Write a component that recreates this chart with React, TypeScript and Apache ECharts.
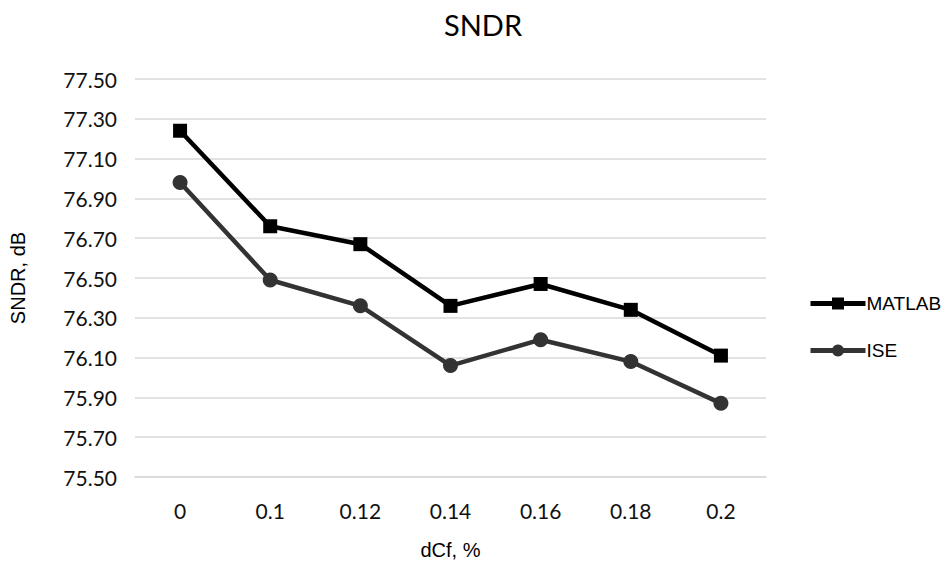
import React, { useEffect, useRef } from "react";
import * as echarts from "echarts";

const categories = ["0", "0.1", "0.12", "0.14", "0.16", "0.18", "0.2"];
const matlab = [77.24, 76.76, 76.67, 76.36, 76.47, 76.34, 76.11];
const ise = [76.98, 76.49, 76.36, 76.06, 76.19, 76.08, 75.87];
const yMin = 75.5;
const yMax = 77.5;
const yStep = 0.2;

export default function App() {
  const ref = useRef<HTMLDivElement>(null);
  useEffect(() => {
    if (!ref.current) return;
    const chart = echarts.init(ref.current, null, { renderer: "svg" });
    chart.setOption({
      animation: false,
      backgroundColor: "#ffffff",
      title: {
        text: "SNDR",
        left: 478,
        textAlign: "center",
        top: 5,
        textStyle: { fontFamily: "Lato", fontSize: 29, fontWeight: "normal", color: "#000" },
      },
      legend: {
        orient: "vertical",
        left: 803,
        top: 289,
        itemWidth: 55,
        itemHeight: 15,
        itemGap: 28,
        lineStyle: { width: 5 },
        textStyle: { fontFamily: "Liberation Sans", fontSize: 19, color: "#000", padding: [0, 0, 0, -4] },
        data: ["MATLAB", "ISE"],
      },
      grid: { left: 135, right: 186, top: 79, bottom: 87 },
      xAxis: {
        type: "category",
        data: categories,
        boundaryGap: true,
        name: "dCf, %",
        nameLocation: "middle",
        nameGap: 63,
        nameTextStyle: { fontFamily: "Liberation Sans", fontSize: 20, color: "#000" },
        axisLine: { show: true, lineStyle: { color: "#d9d9d9", width: 1.5 } },
        axisTick: { show: false },
        axisLabel: { fontFamily: "Lato", fontSize: 21, color: "#111", margin: 23 },
      },
      yAxis: {
        type: "value",
        min: yMin,
        max: yMax,
        interval: yStep,
        name: "SNDR, dB",
        nameLocation: "middle",
        nameGap: 107,
        nameTextStyle: { fontFamily: "Liberation Sans", fontSize: 20, color: "#000" },
        axisLine: { show: false },
        axisTick: { show: false },
        splitLine: { lineStyle: { color: "#d9d9d9", width: 1.5 } },
        axisLabel: {
          fontFamily: "Lato",
          fontSize: 21,
          color: "#111",
          margin: 18,
          formatter: (v: number) => v.toFixed(2),
        },
      },
      series: [
        {
          name: "MATLAB",
          type: "line",
          data: matlab,
          symbol: "rect",
          symbolSize: 14,
          lineStyle: { color: "#000000", width: 4.5 },
          itemStyle: { color: "#000000" },
        },
        {
          name: "ISE",
          type: "line",
          data: ise,
          symbol: "circle",
          symbolSize: 15,
          lineStyle: { color: "#333333", width: 4.5 },
          itemStyle: { color: "#333333" },
        },
      ],
    });
    return () => chart.dispose();
  }, []);
  return <div ref={ref} style={{ width: 952, height: 565, position: "absolute", left: 0, top: 0 }} />;
}
